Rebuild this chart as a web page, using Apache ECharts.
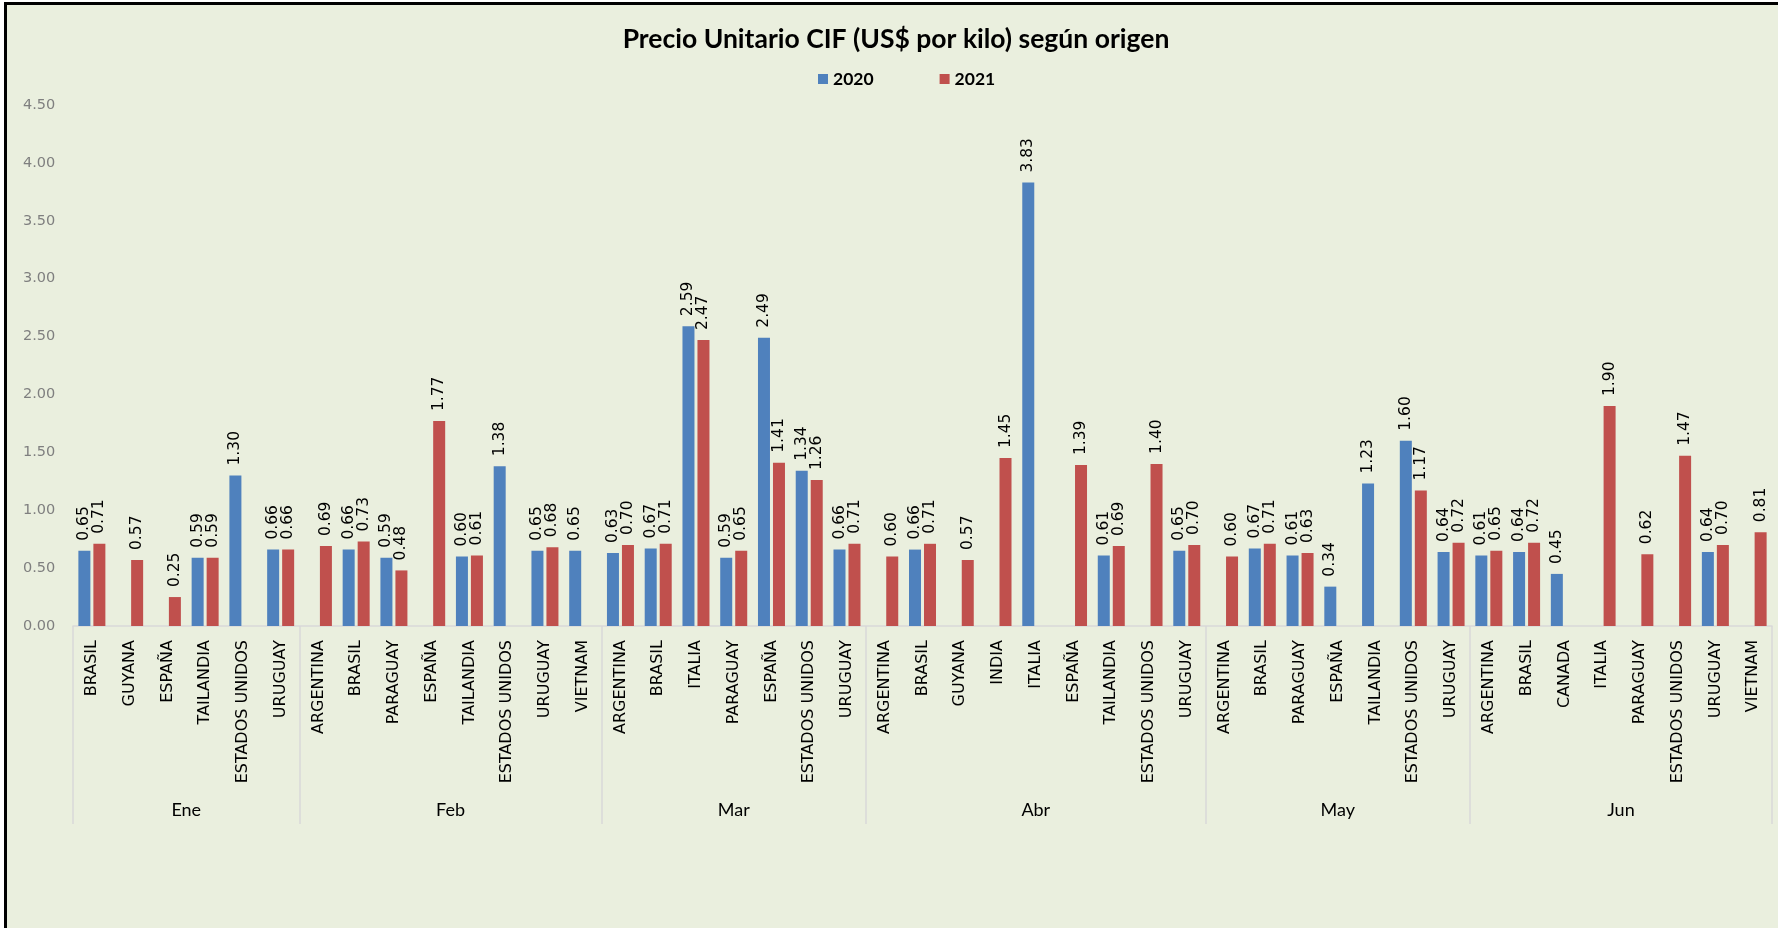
<!DOCTYPE html>
<html>
<head>
<meta charset="utf-8">
<script src="https://cdn.jsdelivr.net/npm/echarts@6/dist/echarts.min.js"></script>
<style>
  html, body { margin: 0; padding: 0; width: 1778px; height: 928px; overflow: hidden; background: #fff; }
  .frame {
    position: absolute; left: 4px; top: 2px; width: 1800px; height: 950px;
    background: #eaefde; border: 3px solid #000;
  }
  #chart { position: absolute; left: 0; top: 0; width: 1778px; height: 928px; }
</style>
</head>
<body>
<div class="frame"></div>
<div id="chart"></div>
<script>
  // countries per month, in reading order
  const categories = [
    'BRASIL', 'GUYANA', 'ESPAÑA', 'TAILANDIA', 'ESTADOS UNIDOS', 'URUGUAY',
    'ARGENTINA', 'BRASIL', 'PARAGUAY', 'ESPAÑA', 'TAILANDIA', 'ESTADOS UNIDOS', 'URUGUAY', 'VIETNAM',
    'ARGENTINA', 'BRASIL', 'ITALIA', 'PARAGUAY', 'ESPAÑA', 'ESTADOS UNIDOS', 'URUGUAY',
    'ARGENTINA', 'BRASIL', 'GUYANA', 'INDIA', 'ITALIA', 'ESPAÑA', 'TAILANDIA', 'ESTADOS UNIDOS', 'URUGUAY',
    'ARGENTINA', 'BRASIL', 'PARAGUAY', 'ESPAÑA', 'TAILANDIA', 'ESTADOS UNIDOS', 'URUGUAY',
    'ARGENTINA', 'BRASIL', 'CANADA', 'ITALIA', 'PARAGUAY', 'ESTADOS UNIDOS', 'URUGUAY', 'VIETNAM',
  ];
  const months = ['Ene', 'Feb', 'Mar', 'Abr', 'May', 'Jun'];
  const monthSizes = [6, 8, 7, 9, 7, 8];

  const values2020 = [
    0.65, null, null, 0.59, 1.30, 0.66,
    null, 0.66, 0.59, null, 0.60, 1.38, 0.65, 0.65,
    0.63, 0.67, 2.59, 0.59, 2.49, 1.34, 0.66,
    null, 0.66, null, null, 3.83, null, 0.61, null, 0.65,
    null, 0.67, 0.61, 0.34, 1.23, 1.60, 0.64,
    0.61, 0.64, 0.45, null, null, null, 0.64, null,
  ];
  const values2021 = [
    0.71, 0.57, 0.25, 0.59, null, 0.66,
    0.69, 0.73, 0.48, 1.77, 0.61, null, 0.68, null,
    0.70, 0.71, 2.47, 0.65, 1.41, 1.26, 0.71,
    0.60, 0.71, 0.57, 1.45, null, 1.39, 0.69, 1.40, 0.70,
    0.60, 0.71, 0.63, null, null, 1.17, 0.72,
    0.65, 0.72, null, 1.90, 0.62, 1.47, 0.70, 0.81,
  ];

  // month group edges and centres on a 0..n scale
  const edges = [0];
  monthSizes.forEach((n) => edges.push(edges[edges.length - 1] + n));
  const centres = monthSizes.map((n, i) => edges[i] + n / 2);

  const chart = echarts.init(document.getElementById('chart'));

  const barLabel = {
    show: true,
    position: 'top',
    rotate: 90,
    align: 'left',
    verticalAlign: 'middle',
    distance: 10,
    color: '#000',
    fontFamily: 'DejaVu Sans',
    fontSize: 15.5,
    formatter: (p) => (p.value == null ? '' : p.value.toFixed(2)),
  };

  chart.setOption({
    backgroundColor: 'transparent',
    animation: false,
    title: {
      text: 'Precio Unitario CIF (US$ por kilo) según origen',
      left: 891,
      top: 21,
      textAlign: 'center',
      textStyle: { fontFamily: 'Lato', fontWeight: 'bold', fontSize: 26.5, color: '#000' },
    },
    legend: {
      left: 813,
      top: 65,
      itemWidth: 10,
      itemHeight: 10,
      itemGap: 66,
      icon: 'rect',
      textStyle: { fontFamily: 'Lato', fontWeight: 'bold', fontSize: 17.5, color: '#000' },
    },
    grid: { left: 73, right: 6, top: 105, bottom: 302 },
    xAxis: [
      {
        type: 'category',
        data: categories,
        axisLine: { lineStyle: { color: '#d9d9d9', width: 1.5 } },
        axisTick: { show: false },
        axisLabel: {
          interval: 0,
          rotate: 90,
          margin: 14,
          color: '#000',
          fontFamily: 'DejaVu Sans',
          fontSize: 16,
        },
      },
      {
        type: 'value',
        min: 0,
        max: categories.length,
        position: 'bottom',
        axisLine: { show: false },
        splitLine: { show: false },
        axisTick: {
          show: true,
          customValues: edges,
          length: 198,
          lineStyle: { color: '#d9d9d9', width: 1.5 },
        },
        axisLabel: {
          customValues: centres,
          margin: 175,
          color: '#000',
          fontFamily: 'Lato',
          fontSize: 18,
          formatter: (v) => months[centres.indexOf(v)] ?? '',
        },
      },
    ],
    yAxis: {
      type: 'value',
      min: 0,
      max: 4.5,
      interval: 0.5,
      axisLine: { show: false },
      axisTick: { show: false },
      splitLine: { show: false },
      axisLabel: {
        align: 'left',
        margin: 50,
        color: '#7f7f7f',
        fontFamily: 'DejaVu Sans',
        fontSize: 14.5,
        formatter: (v) => v.toFixed(2),
      },
    },
    series: [
      {
        name: '2020',
        type: 'bar',
        barWidth: 12,
        barGap: '25%',
        itemStyle: { color: '#4f81bd' },
        label: barLabel,
        data: values2020,
      },
      {
        name: '2021',
        type: 'bar',
        barWidth: 12,
        itemStyle: { color: '#c0504d' },
        label: barLabel,
        data: values2021,
      },
    ],
  });
</script>
</body>
</html>
